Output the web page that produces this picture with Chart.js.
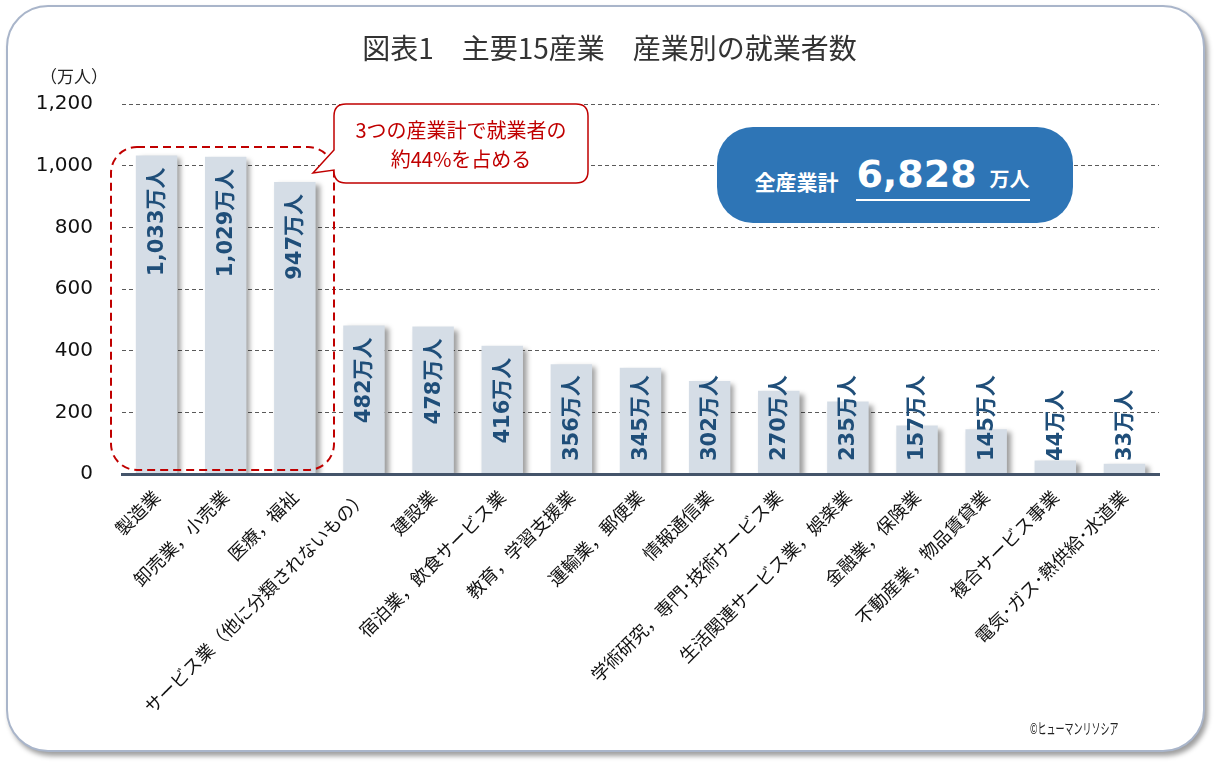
<!DOCTYPE html>
<html lang="ja">
<head>
<meta charset="utf-8">
<script src="https://cdn.jsdelivr.net/npm/chart.js@4.4.1/dist/chart.umd.min.js"></script>
<style>
  html, body { margin: 0; padding: 0; background: #ffffff; }
  body { width: 1219px; height: 768px; position: relative; overflow: hidden;
         font-family: "DejaVu Sans", "Noto Sans CJK JP", sans-serif; }
  #frame { position: absolute; left: 6px; top: 5px; width: 1195px; height: 743px;
           border: 2px solid #a9b5ca; border-radius: 42px; background: #fff;
           box-shadow: 3px 4px 5px rgba(0,0,0,0.38); }
  #wrap { position: absolute; left: 0; top: 0; width: 1219px; height: 768px; }
  #title { position: absolute; left: 0; width: 1219px; top: 28px; text-align: center;
           font-family: "Noto Sans CJK JP", sans-serif; font-size: 28px; color: #333333; line-height: 38px; }
  #unit { position: absolute; left: 40px; top: 63px; font-family: "Noto Sans CJK JP", sans-serif;
          font-size: 17px; color: #222; }
  svg#ann { position: absolute; left: 0; top: 0; }
  #callout { position: absolute; left: 334px; top: 104px; width: 254px; height: 79px;
             display: flex; flex-direction: column; justify-content: center; align-items: center;
             color: #c00000; font-family: "Noto Sans CJK JP", sans-serif; font-size: 20px; line-height: 29px; }
  #total { position: absolute; left: 717px; top: 127px; width: 356px; height: 96px; border-radius: 36px;
           background: #2e75b6; color: #fff; display: flex; align-items: center; justify-content: center;
           font-family: "Noto Sans CJK JP", sans-serif; font-weight: bold; box-sizing: border-box; padding-top: 4px; padding-right: 6px; }
  #total .lbl { font-size: 21px; margin-right: 18px; margin-top: 8px; }
  #total .uline { display: inline-flex; align-items: baseline; border-bottom: 2px solid #fff; line-height: 40px; }
  #total .num { font-family: "DejaVu Sans", sans-serif; font-size: 38px; }
  #total .u { font-size: 20px; margin-left: 13px; }
  #copy { position: absolute; left: 1030px; top: 717px; font-family: "Noto Sans CJK JP", sans-serif;
          font-size: 15px; color: #222; transform: scaleX(0.6); transform-origin: left top; white-space: nowrap; }
</style>
</head>
<body>
<div id="frame"></div>
<div id="wrap"><canvas id="c" width="1219" height="768"></canvas></div>
<div id="title">図表1　主要15産業　産業別の就業者数</div>
<div id="unit">（万人）</div>
<svg id="ann" width="1219" height="768">
  <rect x="111" y="147" width="223" height="323" rx="26" ry="26" fill="none" stroke="#c00000" stroke-width="2" stroke-dasharray="8 5"/>
  <path d="M346,104 H576 Q588,104 588,116 V171 Q588,183 576,183 H346 Q334,183 334,171 V170 L313,173 L334,150 V116 Q334,104 346,104 Z" fill="#ffffff" stroke="#c00000" stroke-width="1.5"/>
</svg>
<div id="callout"><div>3つの産業計で就業者の</div><div>約44%を占める</div></div>
<div id="total"><span class="lbl">全産業計</span><span class="uline"><span class="num">6,828</span><span class="u">万人</span></span></div>
<div id="copy">©ヒューマンリソシア</div>
<script>
const categories = [
  "製造業",
  "卸売業，小売業",
  "医療，福祉",
  "サービス業（他に分類されないもの）",
  "建設業",
  "宿泊業，飲食サービス業",
  "教育，学習支援業",
  "運輸業，郵便業",
  "情報通信業",
  "学術研究，専門･技術サービス業",
  "生活関連サービス業，娯楽業",
  "金融業，保険業",
  "不動産業，物品賃貸業",
  "複合サービス事業",
  "電気･ガス･熱供給･水道業"
];
const workers = [1033, 1029, 947, 482, 478, 416, 356, 345, 302, 270, 235, 157, 145, 44, 33];
const yTicks = [0, 200, 400, 600, 800, 1000, 1200];
const valueSuffix = "万人";

const shadowPlugin = {
  id: 'barShadow',
  beforeDatasetsDraw(chart) {
    const ctx = chart.ctx;
    ctx.save();
    ctx.shadowColor = 'rgba(0,0,0,0.38)';
    ctx.shadowOffsetX = 4;
    ctx.shadowOffsetY = 3;
    ctx.shadowBlur = 5;
  },
  afterDatasetsDraw(chart) {
    chart.ctx.restore();
  }
};

const labelPlugin = {
  id: 'barLabels',
  afterDatasetsDraw(chart) {
    const ctx = chart.ctx;
    const meta = chart.getDatasetMeta(0);
    const base = chart.scales.y.getPixelForValue(0);
    ctx.save();
    ctx.font = "bold 21px 'DejaVu Sans', 'Noto Sans CJK JP', sans-serif";
    ctx.fillStyle = '#1f4e79';
    ctx.textAlign = 'right';
    ctx.textBaseline = 'middle';
    meta.data.forEach((bar, i) => {
      const txt = workers[i].toLocaleString('en-US') + valueSuffix;
      const L = ctx.measureText(txt).width;
      let top = bar.y + 12;
      if (top + L > base - 13) top = base - 13 - L;
      ctx.save();
      ctx.translate(bar.x + 1, top);
      ctx.rotate(-Math.PI / 2);
      ctx.fillText(txt, 0, 0);
      ctx.restore();
    });
    ctx.restore();
  }
};

new Chart(document.getElementById('c'), {
  type: 'bar',
  data: {
    labels: categories,
    datasets: [{
      data: workers,
      backgroundColor: '#d5dde6',
      borderWidth: 0,
      barPercentage: 0.6,
      categoryPercentage: 1.0
    }]
  },
  options: {
    responsive: false,
    animation: false,
    devicePixelRatio: 1,
    layout: { padding: { left: 0, top: 104, right: 60, bottom: 0 } },
    plugins: { legend: { display: false }, tooltip: { enabled: false } },
    scales: {
      x: {
        grid: { display: false },
        border: { display: true, color: '#44546a', width: 3, z: 1 },
        ticks: {
          minRotation: 45, maxRotation: 45, autoSkip: false,
          color: '#111111', padding: 4,
          font: { family: "'Noto Sans CJK JP', sans-serif", size: 18 }
        },
        afterFit(scale) { scale.height = 294; }
      },
      y: {
        min: 0, max: 1200,
        afterBuildTicks(scale) { scale.ticks = yTicks.map(v => ({ value: v })); },
        border: { display: false, dash: [4, 3] },
        grid: {
          drawTicks: false,
          color: (c) => c.tick && c.tick.value === 0 ? 'rgba(0,0,0,0)' : '#5a5a5a',
          lineWidth: 1
        },
        ticks: {
          padding: 29, color: '#111111',
          font: { family: "'DejaVu Sans', sans-serif", size: 20 },
          callback: (v) => Number(v).toLocaleString('en-US')
        },
        afterFit(scale) { scale.width = 122; }
      }
    }
  },
  plugins: [shadowPlugin, labelPlugin]
});
</script>
</body>
</html>
